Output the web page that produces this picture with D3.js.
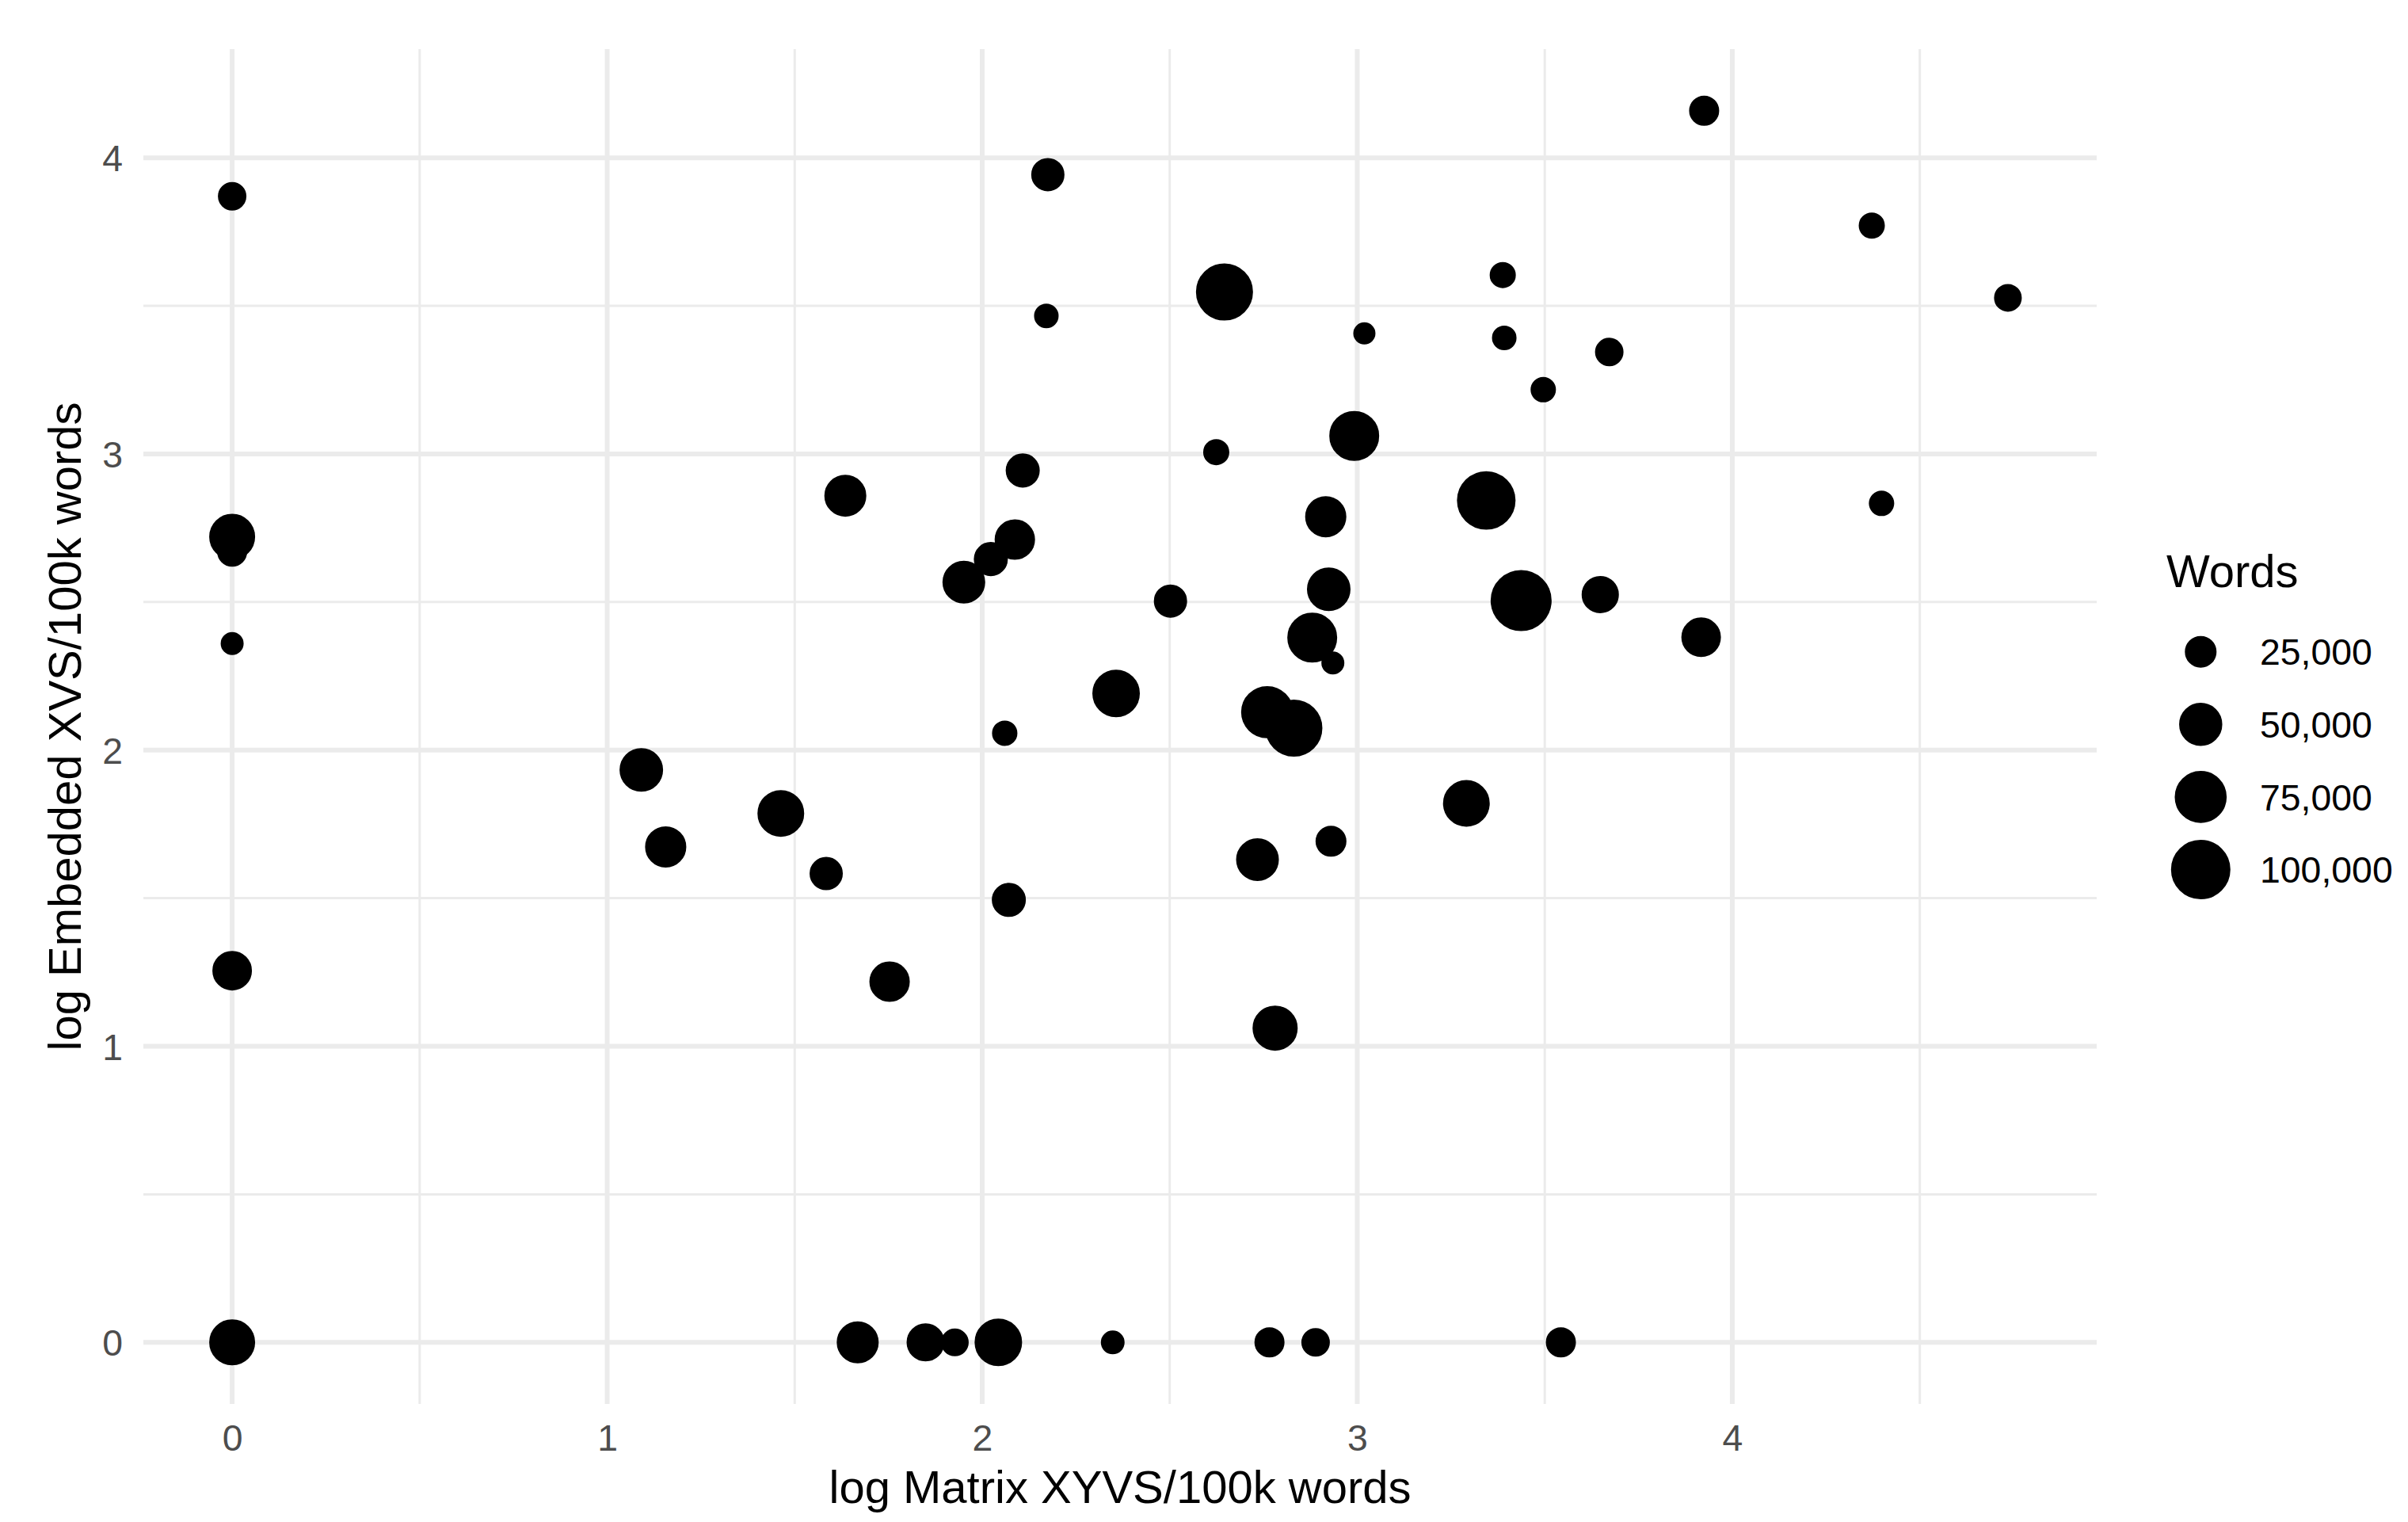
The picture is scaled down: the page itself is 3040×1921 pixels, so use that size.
<!DOCTYPE html>
<html>
<head>
<meta charset="utf-8">
<script src="https://cdn.jsdelivr.net/npm/d3@7"></script>
<style>
  body { margin: 0; background: #fff; }
  svg { display: block; }
  text { font-family: "Liberation Sans", Arial, sans-serif; }
</style>
</head>
<body>
<div id="chart"></div>
<script>
// log Matrix XYVS per 100k words (x)
var logMatrix = [
  0, 0, 0, 0, 0, 0,
  2.175, 2.171, 2.646, 3.019, 2.992, 2.624, 2.108, 1.635, 2.916, 2.087,
  2.023, 1.951, 2.924, 2.502, 2.880, 2.935, 2.357, 2.060, 2.760, 2.831,
  1.091, 1.463, 1.156, 1.584, 2.071, 1.753, 2.734, 3.291, 2.930, 2.781,
  3.925, 4.372, 3.388, 4.735, 3.392, 3.672, 3.496, 3.344, 4.398, 3.437,
  3.648, 3.917,
  1.668, 1.849, 1.927, 2.043, 2.348, 2.766, 2.889, 3.543
];
// log Embedded XVS per 100k words (y)
var logEmbedded = [
  3.87, 2.72, 2.67, 2.36, 1.255, 0,
  3.943, 3.466, 3.547, 3.407, 3.061, 3.006, 2.944, 2.859, 2.788, 2.711,
  2.645, 2.567, 2.543, 2.503, 2.380, 2.294, 2.191, 2.057, 2.128, 2.074,
  1.933, 1.786, 1.673, 1.583, 1.494, 1.218, 1.630, 1.820, 1.692, 1.061,
  4.159, 3.771, 3.604, 3.527, 3.392, 3.344, 3.217, 2.843, 2.833, 2.505,
  2.525, 2.381,
  0, 0, 0, 0, 0, 0, 0, 0
];
// corpus size
var words = [
  19600, 57300, 22200, 11750, 41300, 57300,
  27900, 13800, 91600, 10800, 68600, 16000, 29500, 47000, 45100, 43200,
  29500, 49000, 51000, 27900, 68600, 11750, 61700, 14900, 75900, 91600,
  51000, 59500, 45100, 27900, 29500, 43200, 49000, 59500, 23600, 55200,
  22200, 16000, 16000, 18400, 13800, 19600, 14900, 97100, 14900, 105800,
  36000, 41300,
  47000, 37700, 18400, 61700, 12750, 22200, 19600, 22200
];

var xTicks = [0, 1, 2, 3, 4];
var yTicks = [0, 1, 2, 3, 4];
var xMinor = [0.5, 1.5, 2.5, 3.5, 4.5];
var yMinor = [0.5, 1.5, 2.5, 3.5];
var legendBreaks = [25000, 50000, 75000, 100000];

var xTitle = "log Matrix XYVS/100k words";
var yTitle = "log Embedded XVS/100k words";
var legendTitle = "Words";

var width = 3040, height = 1921;
var panel = {left: 181, right: 2647, top: 62, bottom: 1772};

var points = logMatrix.map(function(x, i) {
  return {x: x, y: logEmbedded[i], w: words[i]};
});

// ggplot style 5% expansion
function expand(ext) {
  var pad = (ext[1] - ext[0]) * 0.05;
  return [ext[0] - pad, ext[1] + pad];
}

var x = d3.scaleLinear()
    .domain(expand(d3.extent(logMatrix)))
    .range([panel.left, panel.right]);

var y = d3.scaleLinear()
    .domain(expand(d3.extent(logEmbedded)))
    .range([panel.bottom, panel.top]);

// point area ~ words; the stroke adds the rest
var size = d3.scaleSqrt()
    .domain([0, 100000])
    .range([0, 35]);

var svg = d3.select("#chart").append("svg")
    .attr("width", width)
    .attr("height", height);

svg.append("rect")
    .attr("width", width)
    .attr("height", height)
    .attr("fill", "#fff");

var grid = svg.append("g").attr("class", "grid");

// minor grid
grid.selectAll(".vminor").data(xMinor.filter(function(d) { return x(d) <= panel.right; }))
  .enter().append("line")
    .attr("x1", x).attr("x2", x)
    .attr("y1", panel.top).attr("y2", panel.bottom)
    .attr("stroke", "#ebebeb").attr("stroke-width", 3);

grid.selectAll(".hminor").data(yMinor)
  .enter().append("line")
    .attr("y1", y).attr("y2", y)
    .attr("x1", panel.left).attr("x2", panel.right)
    .attr("stroke", "#ebebeb").attr("stroke-width", 3);

// major grid
grid.selectAll(".vmajor").data(xTicks)
  .enter().append("line")
    .attr("x1", x).attr("x2", x)
    .attr("y1", panel.top).attr("y2", panel.bottom)
    .attr("stroke", "#ebebeb").attr("stroke-width", 6);

grid.selectAll(".hmajor").data(yTicks)
  .enter().append("line")
    .attr("y1", y).attr("y2", y)
    .attr("x1", panel.left).attr("x2", panel.right)
    .attr("stroke", "#ebebeb").attr("stroke-width", 6);

// axes (labels only, ticks and domain hidden)
var xAxis = svg.append("g")
    .attr("transform", "translate(0," + panel.bottom + ")")
    .call(d3.axisBottom(x).tickValues(xTicks).tickSize(0).tickPadding(0).tickFormat(d3.format("d")));
xAxis.select(".domain").remove();
xAxis.selectAll("text")
    .attr("y", 59)
    .attr("dy", null)
    .attr("fill", "#4d4d4d")
    .style("font-size", "46.4px")
    .style("font-family", "'Liberation Sans', Arial, sans-serif");

var yAxis = svg.append("g")
    .attr("transform", "translate(" + panel.left + ",0)")
    .call(d3.axisLeft(y).tickValues(yTicks).tickSize(0).tickPadding(0).tickFormat(d3.format("d")));
yAxis.select(".domain").remove();
yAxis.selectAll("text")
    .attr("x", -26)
    .attr("dy", "0.358em")
    .attr("fill", "#4d4d4d")
    .style("font-size", "46.4px")
    .style("font-family", "'Liberation Sans', Arial, sans-serif");

// points
svg.append("g").selectAll("circle")
    .data(points)
  .enter().append("circle")
    .attr("cx", function(d) { return x(d.x); })
    .attr("cy", function(d) { return y(d.y); })
    .attr("r", function(d) { return size(d.w); })
    .attr("fill", "#000")
    .attr("stroke", "#000")
    .attr("stroke-width", 5);

// axis titles
svg.append("text")
    .attr("x", (panel.left + panel.right) / 2)
    .attr("y", 1897)
    .attr("text-anchor", "middle")
    .style("font-size", "58px")
    .attr("fill", "#000")
    .text(xTitle);

svg.append("text")
    .attr("transform", "translate(101.5," + (panel.top + panel.bottom) / 2 + ") rotate(-90)")
    .attr("text-anchor", "middle")
    .style("font-size", "58px")
    .attr("fill", "#000")
    .text(yTitle);

// legend
var legend = svg.append("g").attr("transform", "translate(2735,0)");

legend.append("text")
    .attr("x", 0)
    .attr("y", 741)
    .style("font-size", "58px")
    .attr("fill", "#000")
    .text(legendTitle);

var key = legend.selectAll(".key")
    .data(legendBreaks)
  .enter().append("g")
    .attr("class", "key")
    .attr("transform", function(d, i) { return "translate(0," + (822.7 + i * 91.6) + ")"; });

key.append("circle")
    .attr("cx", 43.3)
    .attr("cy", 0)
    .attr("r", size)
    .attr("fill", "#000")
    .attr("stroke", "#000")
    .attr("stroke-width", 5);

key.append("text")
    .attr("x", 118)
    .attr("dy", "0.358em")
    .style("font-size", "46.4px")
    .attr("fill", "#000")
    .text(d3.format(","));
</script>
</body>
</html>
